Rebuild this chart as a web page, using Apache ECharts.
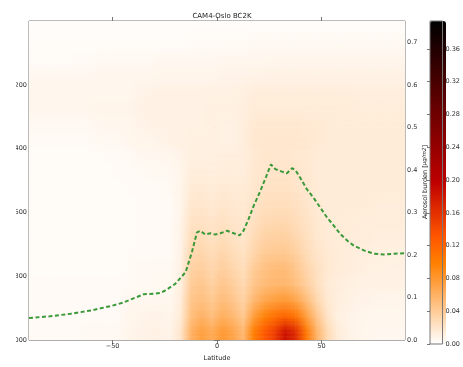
<!DOCTYPE html>
<html>
<head>
<meta charset="utf-8">
<script src="https://cdn.jsdelivr.net/npm/echarts@6/dist/echarts.min.js"></script>
<style>
  html, body { margin: 0; padding: 0; background: #fff; }
  #chart { width: 463px; height: 367px; }
</style>
</head>
<body>
<div id="chart"></div>
<script>
// latitude cell centres (deg) and pressure cell centres (hPa)
var lats = [-87.5, -82.5, -77.5, -72.5, -67.5, -62.5, -57.5, -52.5, -47.5, -42.5, -37.5, -32.5,
    -27.5, -22.5, -17.5, -12.5, -7.5, -2.5, 2.5, 7.5, 12.5, 17.5, 22.5, 27.5,
    32.5, 37.5, 42.5, 47.5, 52.5, 57.5, 62.5, 67.5, 72.5, 77.5, 82.5, 87.5];
var levels = [25, 75, 125, 175, 225, 275, 325, 375, 425, 475, 525, 575, 625, 675, 725, 775, 825, 875, 925, 975];

// BC concentration, in 1e-3 units, one row per level (top -> surface)
var field = [
    [2,2,2,2,2,2,2,2,2,2,2,2,2,2,2,2,2,2,2,2,2,2,2,2,2,2,2,2,2,2,2,2,2,2,2,2],
    [3,3,3,3,3,3,3,3,3,3,3,3,3,3,3,4,4,4,4,4,4,5,5,5,5,5,5,5,5,5,5,5,5,5,5,5],
    [3,3,3,3,4,4,5,5,5,5,5,5,6,6,6,6,6,6,7,7,7,7,7,8,8,8,8,8,8,8,8,8,8,8,8,8],
    [6,6,6,6,6,6,7,7,7,7,7,7,8,8,8,8,8,8,9,9,9,10,10,10,10,10,10,10,10,10,10,10,10,10,10,10],
    [7,7,7,7,7,7,7,7,7,7,9,10,10,10,10,10,10,11,11,11,12,14,14,14,14,14,14,14,14,14,14,13,13,13,13,13],
    [7,7,7,7,7,7,8,8,8,8,10,11,11,11,11,11,11,12,12,12,13,15,15,15,15,15,15,15,15,15,15,14,14,14,14,14],
    [5,5,5,5,5,5,6,7,7,7,9,10,10,10,10,11,11,12,11,11,13,17,18,18,18,18,17,17,16,15,15,15,15,15,15,15],
    [4,4,4,4,4,4,5,5,5,7,8,8,9,10,11,12,12,12,11,11,13,18,19,19,19,19,18,17,16,15,15,15,15,15,15,15],
    [3,3,3,3,3,3,3,4,4,4,6,6,6,7,9,12,12,12,13,13,13,17,19,19,19,18,17,16,15,15,15,15,15,15,15,15],
    [3,3,3,3,3,3,3,3,4,4,4,5,5,5,8,14,14,13,14,14,14,18,20,21,21,20,18,16,15,15,15,15,15,15,15,15],
    [3,3,3,3,3,3,3,3,3,4,4,4,4,5,8,16,17,15,17,16,16,19,22,23,23,21,19,16,15,15,15,15,15,15,15,15],
    [3,3,3,3,3,3,3,3,3,3,4,4,4,4,8,19,20,17,20,18,17,21,25,26,26,24,20,17,15,15,15,15,15,14,14,14],
    [3,3,3,3,3,3,3,3,3,3,4,4,4,4,9,22,23,20,23,20,19,24,29,30,30,27,22,18,15,15,15,14,14,14,14,14],
    [3,3,3,3,3,3,3,3,3,3,4,4,4,4,9,26,27,23,27,23,20,28,34,36,36,31,25,19,16,15,15,14,14,13,13,13],
    [3,3,3,3,3,3,3,3,3,4,4,4,4,4,10,30,32,27,32,27,23,32,40,42,42,37,28,21,17,15,14,13,13,12,12,12],
    [3,3,3,3,3,3,3,3,3,4,5,5,5,5,11,35,38,31,38,32,26,40,48,52,52,45,33,24,18,15,14,13,12,11,11,11],
    [4,4,4,4,4,4,4,4,4,4,5,5,5,5,12,40,44,36,45,38,30,45,52,56,56,50,38,26,16,14,12,11,10,10,10,10],
    [4,4,4,4,4,4,4,4,4,6,6,6,6,6,14,45,50,42,52,45,35,55,68,75,78,70,52,32,18,13,11,9,9,8,8,8],
    [4,4,4,4,4,4,4,4,4,7,8,9,9,8,16,50,60,50,62,55,42,75,95,110,118,108,75,45,22,12,9,8,7,7,7,7],
    [4,4,4,4,4,5,5,5,5,8,9,10,10,9,20,60,75,65,80,70,55,100,128,150,185,165,105,60,30,15,10,8,7,6,6,6]
];

// column burden (right axis)
var lineLat = [-90, -80, -70, -60, -50, -45, -40, -35, -30, -27, -25, -20, -15, -12, -9.6, -8, -5.6, -3.2,
    -0.8, 1.6, 4.8, 8, 10.8, 12.7, 15.1, 17.5, 20.7, 23.6, 25.8, 27.9, 31.1, 33.5, 35.9, 37.5, 39.9,
    43.1, 46.3, 49.5, 52.7, 55.9, 59.1, 62.3, 65.5, 70.3, 75.1, 79.9, 84.7, 90];
var lineVal = [0.052, 0.056, 0.062, 0.070, 0.081, 0.088, 0.098, 0.108, 0.109, 0.111, 0.116, 0.132, 0.160,
    0.207, 0.253, 0.257, 0.248, 0.251, 0.248, 0.251, 0.257, 0.251, 0.246, 0.257, 0.284, 0.315, 0.350,
    0.385, 0.413, 0.402, 0.396, 0.392, 0.404, 0.400, 0.381, 0.354, 0.334, 0.311, 0.288, 0.269, 0.249,
    0.234, 0.222, 0.211, 0.203, 0.201, 0.203, 0.204];

var latTicks = [-50, 0, 50];

// gist_heat_r
var cmap = ['#ffffff', '#ffd5aa', '#ffaa55', '#ff8000', '#ff5500', '#df2b00', '#bf0000',
    '#9f0000', '#800000', '#600000', '#400000', '#200000', '#000000'];

var nLat = lats.length, nLev = levels.length;
var cells = [];
for (var j = 0; j < nLev; j++) {
    for (var i = 0; i < nLat; i++) {
        cells.push([lats[i], levels[j], field[j][i], i, j]);
    }
}
var lineData = lineLat.map(function (x, k) { return [x, lineVal[k]]; });

// each item fills the patch between its centre and the next centres,
// blending the colours the visualMap gave the four corners
function renderCell(params, api) {
    var i = api.value(3), j = api.value(4);
    var i1 = Math.min(i + 1, nLat - 1), j1 = Math.min(j + 1, nLev - 1);
    var col = function (ii, jj) { return api.visual('color', jj * nLat + ii); };
    var c00 = col(i, j), c10 = col(i1, j), c01 = col(i, j1), c11 = col(i1, j1);
    var x0 = i === 0 ? -90 : lats[i], x1 = i === nLat - 1 ? 90 : lats[i + 1];
    var y0 = j === 0 ? 0 : levels[j], y1 = j === nLev - 1 ? 1000 : levels[j + 1];
    var p0 = api.coord([x0, y0]), p1 = api.coord([x1, y1]);
    var n = 6, h = (p1[1] - p0[1]) / n, kids = [];
    for (var k = 0; k < n; k++) {
        var t = (k + 0.5) / n;
        var cl = echarts.color.lerp(t, [c00, c01]), cr = echarts.color.lerp(t, [c10, c11]);
        kids.push({
            type: 'rect',
            shape: { x: p0[0], y: p0[1] + k * h, width: p1[0] - p0[0] + 0.5, height: h + 0.5 },
            style: { fill: { type: 'linear', x: 0, y: 0, x2: 1, y2: 0,
                colorStops: [{ offset: 0, color: cl }, { offset: 1, color: cr }] } }
        });
    }
    return { type: 'group', children: kids };
}

var font = 'DejaVu Sans';
var lab = { fontFamily: font, fontSize: 6.5, color: '#333' };
var frame = '#777';

var chart = echarts.init(document.getElementById('chart'));
var option = {
    animation: false,
    backgroundColor: '#fff',
    title: {
        text: 'CAM4-Oslo BC2K',
        left: 217, top: 8, textAlign: 'center',
        textStyle: { fontFamily: font, fontSize: 7, fontWeight: 'normal', color: '#222' }
    },
    grid: [
        { left: 29, top: 21, width: 376, height: 323, show: true, borderColor: frame, borderWidth: 1, backgroundColor: '#fff' },
        { left: 430, top: 21, width: 16, height: 323, show: true, borderColor: frame, borderWidth: 1, z: 6 }
    ],
    xAxis: [
        {
            type: 'value', gridIndex: 0, min: -90, max: 90, position: 'bottom',
            name: 'Latitude', nameLocation: 'middle', nameGap: 10,
            nameTextStyle: { fontFamily: font, fontSize: 6.5, color: '#222' },
            axisLine: { show: false }, splitLine: { show: false },
            axisTick: { inside: true, length: 4, customValues: latTicks, lineStyle: { color: frame } },
            axisLabel: Object.assign({ margin: 3, customValues: latTicks,
                formatter: function (v) { return v < 0 ? '\u2212' + Math.abs(v) : String(v); } }, lab)
        },
        {
            type: 'value', gridIndex: 0, min: -90, max: 90, position: 'top',
            axisLine: { show: false }, splitLine: { show: false },
            axisTick: { inside: true, length: 4, customValues: latTicks, lineStyle: { color: frame } },
            axisLabel: { show: false }
        },
        { type: 'value', gridIndex: 1, min: 0, max: 1, show: false }
    ],
    yAxis: [
        {
            type: 'value', gridIndex: 0, min: 0, max: 1000, interval: 200, inverse: true, position: 'left',
            axisLine: { show: false }, splitLine: { show: false },
            axisTick: { inside: true, length: 3, lineStyle: { color: frame } },
            axisLabel: Object.assign({ margin: 2, showMinLabel: false }, lab)
        },
        {
            type: 'value', gridIndex: 0, min: 0, max: 0.75, interval: 0.1, position: 'right',
            axisLine: { show: false }, splitLine: { show: false },
            axisTick: { inside: true, length: 3, lineStyle: { color: frame } },
            axisLabel: Object.assign({ margin: 2, showMaxLabel: false,
                formatter: function (v) { return v.toFixed(1); } }, lab)
        },
        {
            type: 'value', gridIndex: 1, min: 0, max: 0.394, interval: 0.04, position: 'right',
            axisLine: { show: false }, splitLine: { show: false },
            axisTick: { inside: true, length: 3, lineStyle: { color: frame } },
            axisLabel: Object.assign({ margin: 3, showMaxLabel: false,
                formatter: function (v) { return v.toFixed(2); } }, lab)
        }
    ],
    visualMap: {
        type: 'continuous', min: 0, max: 394, dimension: 2, seriesIndex: 0,
        calculable: false, hoverLink: false, padding: 0,
        orient: 'vertical', left: 430, top: 21, itemWidth: 16, itemHeight: 323,
        inRange: { color: cmap }, z: 2
    },
    graphic: [
        { type: 'rect', left: 0, top: 0, shape: { width: 16, height: 367 }, style: { fill: '#fff' }, z: 100 },
        {
            type: 'text', x: 425, y: 182, rotation: Math.PI / 2, z: 100,
            style: {
                text: 'Aerosol burden [{i|\u03bcg/m2}]', align: 'center', verticalAlign: 'middle',
                fontFamily: font, fontSize: 6.5, fill: '#222',
                rich: { i: { fontFamily: font, fontSize: 5.5, fontStyle: 'italic', fill: '#222' } }
            }
        }
    ],
    series: [
        {
            type: 'custom', xAxisIndex: 0, yAxisIndex: 0, clip: true,
            encode: { x: 0, y: 1 },
            data: cells,
            renderItem: renderCell
        },
        {
            type: 'line', xAxisIndex: 0, yAxisIndex: 1, data: lineData,
            showSymbol: false, z: 5,
            lineStyle: { color: '#3a9a3a', width: 2, type: [4, 2.5] }
        }
    ]
};
chart.setOption(option);
</script>
</body>
</html>
